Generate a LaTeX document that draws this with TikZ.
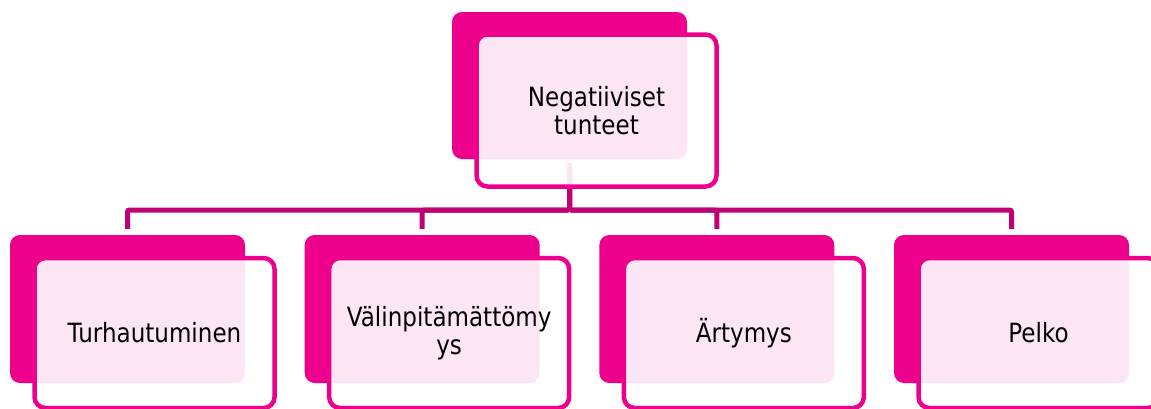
\documentclass[tikz,border=0pt]{standalone}
\usepackage{fontspec}
\setmainfont{DejaVu Sans}[FakeStretch=0.87]
\definecolor{magentabox}{RGB}{236,0,140}
\definecolor{linkline}{RGB}{192,0,115}
\begin{document}
\begin{tikzpicture}[x=1pt,y=-1pt,
  backbox/.style={rectangle, rounded corners=10pt, fill=magentabox, draw=none,
    inner sep=0pt, minimum width=235pt},
  frontbox/.style={rectangle, rounded corners=11pt, draw=magentabox, line width=4.5pt,
    fill=white, fill opacity=0.9, text opacity=1, text=black, inner sep=0pt,
    minimum width=240pt, align=center,
    font=\fontsize{26.5}{27.6}\selectfont},
  conn/.style={draw=linkline, line width=5pt, rounded corners=2pt}
]
\useasboundingbox (0,0) rectangle (1151,408);
\fill[white] (0,0) rectangle (1151,408);

% level of the horizontal bar
\coordinate (bar) at (0,210);

% back plates
\node[backbox, minimum height=147pt] (b0) at (569.5,85.5) {};
\foreach \i in {1,...,4}{
  \node[backbox, minimum height=148pt] (b\i) at ({127.5+(\i-1)*294.67},309) {};
}

% connectors from the parent to each child
\coordinate (p0) at ([yshift=-4pt]b0.south);
\foreach \i in {1,...,4}{
  \coordinate (c\i) at ([yshift=6pt]b\i.north);
  \draw[conn] (p0) -- (p0 |- bar) -| (c\i);
}

% front cards with the labels
\node[frontbox, minimum height=152pt] (f0) at (596.5,110.5) {Negatiiviset\\tunteet};
\node[frontbox, minimum height=150pt] (f1) at (154.5,333) {Turhautuminen};
\node[frontbox, minimum height=150pt] (f2) at (449.17,333) {Välinpitämättömy\\ys};
\node[frontbox, minimum height=150pt] (f3) at (743.84,333) {Ärtymys};
\node[frontbox, minimum height=150pt] (f4) at (1038.5,333) {Pelko};
\end{tikzpicture}
\end{document}
